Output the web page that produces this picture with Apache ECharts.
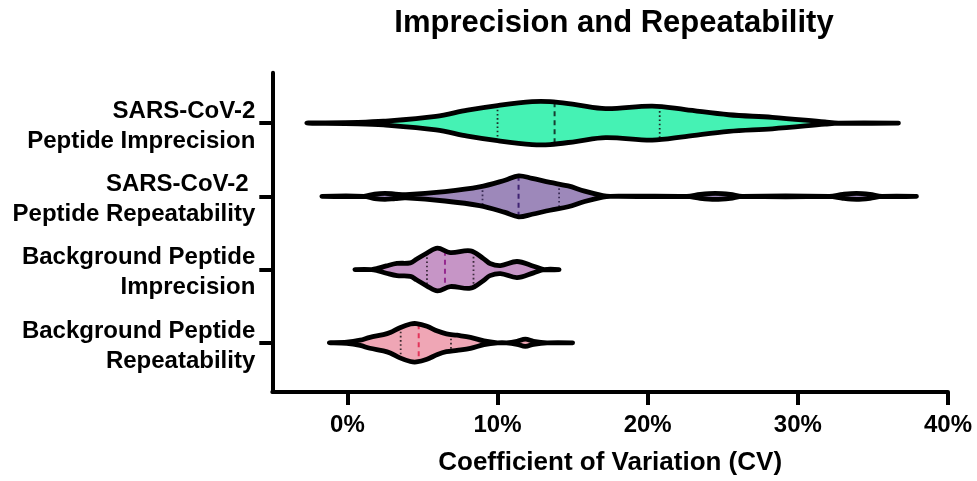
<!DOCTYPE html>
<html><head><meta charset="utf-8">
<script src="https://cdn.jsdelivr.net/npm/echarts@6/dist/echarts.min.js"></script>
<style>html,body{margin:0;padding:0;background:#fff}#c{width:977px;height:481px}</style>
</head><body><div id="c"></div>
<script>
// ---- data ----
const categories = ['SARS-CoV-2\nPeptide Imprecision', 'SARS-CoV-2 \nPeptide Repeatability', 'Background Peptide\nImprecision', 'Background Peptide\nRepeatability'];
const xTickValues = [0, 10, 20, 30, 40];

// violin outlines: CV (%) and half-width of the density (in category-spacing units)
const cvImprecSars = [-2.7, 0.7, 2.4, 5.9, 8.0, 10.0, 12.3, 13.5, 15.2, 17.2, 20.3, 22.5, 25.4, 28.3, 31.8, 32.7, 36.7];
const hwImprecSars = [0, .01, .025, .093, .178, .24, .293, .293, .252, .198, .232, .184, .114, .078, .015, 0, 0];

const cvRepeatSars = [-1.7, 1.1, 1.8, 2.5, 3.2, 3.9, 6.5, 8.8, 10.5, 11.4, 12.3, 13.5, 14.7, 15.8, 17.0, 17.5, 22.6, 23.5, 24.5, 25.5, 26.3, 32.1, 33.0, 33.9, 34.8, 35.6, 37.9];
const hwRepeatSars = [0, 0, .03, .041, .03, .022, .064, .128, .22, .28, .245, .19, .142, .071, .011, 0, 0, .027, .041, .027, 0, 0, .027, .041, .027, 0, 0];

const cvImprecBg = [0.5, 1.6, 2.0, 2.6, 3.3, 4.2, 4.6, 5.3, 6.0, 6.85, 8.2, 9.05, 9.5, 10.2, 11.3, 12.4, 13.1, 14.1];
const hwImprecBg = [0, 0, .015, .05, .083, .092, .14, .225, .292, .232, .255, .152, .083, .055, .11, .045, 0, 0];

const cvRepeatBg = [-1.2, -0.04, 0.85, 1.5, 2.4, 2.85, 3.5, 4.2, 4.6, 5.3, 6.0, 6.6, 7.3, 8.2, 9.1, 10.0, 10.6, 11.3, 11.85, 12.4, 13.3, 15.0];
const hwRepeatBg = [0, .008, .036, .075, .111, .14, .206, .256, .262, .225, .16, .122, .103, .075, .025, 0, 0, .021, .05, .021, 0, 0];

// quartiles [Q1, median, Q3]
const quartImprecSars = [10.0, 13.8, 20.8];
const quartRepeatSars = [9.0, 11.4, 14.1];
const quartImprecBg = [5.3, 6.5, 8.4];
const quartRepeatBg = [3.55, 4.75, 6.9];

// ---- styling ----
const fillColors = ['#45F2B4', '#9D88BA', '#C695C6', '#EFA6B5'];
const quartColors = ['#1f2b27', '#3a2c55', '#3b2a3b', '#3a2a2e'];
const medianColors = ['#163d31', '#3f2272', '#94288e', '#e3345a'];

const cvs = [cvImprecSars, cvRepeatSars, cvImprecBg, cvRepeatBg];
const hws = [hwImprecSars, hwRepeatSars, hwImprecBg, hwRepeatBg];
const quarts = [quartImprecSars, quartRepeatSars, quartImprecBg, quartRepeatBg];
const catPositions = categories.map((c, i) => i);
const labelOffset = 0.045; // labels sit slightly below their tick

function interpHw(cv, xs, ys) {
  for (let k = 0; k < xs.length - 1; k++) {
    if (cv >= xs[k] && cv <= xs[k + 1]) {
      const t = (cv - xs[k]) / (xs[k + 1] - xs[k]);
      return ys[k] + t * (ys[k + 1] - ys[k]);
    }
  }
  return 0;
}

function renderViolin(params, api) {
  const i = api.value(0);
  const xs = cvs[i], ys = hws[i];
  const unit = api.size([0, 1])[1];
  const top = [], bot = [];
  for (let k = 0; k < xs.length; k++) {
    const c = api.coord([xs[k], i]);
    const h = ys[k] * unit;
    top.push([c[0], c[1] - h]);
    bot.push([c[0], c[1] + h]);
  }
  const pts = top.concat(bot.slice(1, -1).reverse());
  const children = [{
    type: 'polygon',
    shape: { points: pts, smooth: 0.35 },
    style: { fill: fillColors[i], stroke: null }
  }];
  quarts[i].forEach((q, qi) => {
    const c = api.coord([q, i]);
    const h = interpHw(q, xs, ys) * unit;
    children.push({
      type: 'line',
      shape: { x1: c[0], y1: c[1] - h, x2: c[0], y2: c[1] + h },
      style: qi === 1
        ? { stroke: medianColors[i], lineWidth: 2, lineDash: [5, 4] }
        : { stroke: quartColors[i], lineWidth: 1.8, lineDash: [1.6, 2.6] }
    });
  });
  children.push({
    type: 'polygon',
    shape: { points: pts, smooth: 0.35 },
    style: { fill: null, stroke: '#000', lineWidth: 4.8, lineJoin: 'round', lineCap: 'round' }
  });
  return { type: 'group', children: children };
}

const FONT = 'Liberation Sans, Arial, Helvetica, sans-serif';
const chart = echarts.init(document.getElementById('c'), null, { renderer: 'canvas' });
chart.setOption({
  animation: false,
  backgroundColor: '#fff',
  title: {
    text: 'Imprecision and Repeatability',
    left: 609, top: 3, textAlign: 'center',
    textStyle: { fontFamily: FONT, fontWeight: 'bold', fontSize: 31, color: '#000' }
  },
  grid: { left: 272.3, right: 29, top: 72.7, bottom: 87.5, containLabel: false },
  xAxis: {
    type: 'value', min: -5, max: 40,
    name: 'Coefficient of Variation (CV)', nameLocation: 'middle', nameGap: 58,
    nameTextStyle: { fontFamily: FONT, fontWeight: 'bold', fontSize: 26, color: '#000' },
    axisLine: { show: true, onZero: false, lineStyle: { color: '#000', width: 4 } },
    axisTick: { show: true, customValues: xTickValues, length: 13, lineStyle: { color: '#000', width: 4 } },
    axisLabel: { customValues: xTickValues, formatter: '{value}%', margin: 21, fontFamily: FONT, fontWeight: 'bold', fontSize: 24, color: '#000' },
    splitLine: { show: false }
  },
  yAxis: {
    type: 'value', min: -0.688, max: 3.672, inverse: true,
    axisLine: { show: true, onZero: false, lineStyle: { color: '#000', width: 4 } },
    axisTick: { show: true, customValues: catPositions, length: 13, lineStyle: { color: '#000', width: 4 } },
    axisLabel: {
      customValues: catPositions.map(p => p + labelOffset),
      formatter: v => categories[Math.round(v)],
      margin: 17, align: 'right', lineHeight: 30,
      fontFamily: FONT, fontWeight: 'bold', fontSize: 24, color: '#000'
    },
    splitLine: { show: false }
  },
  series: [{
    type: 'custom',
    renderItem: renderViolin,
    data: catPositions.map(p => [p]),
    encode: { y: 0 },
    clip: false,
    z: 1
  }]
});
</script></body></html>
